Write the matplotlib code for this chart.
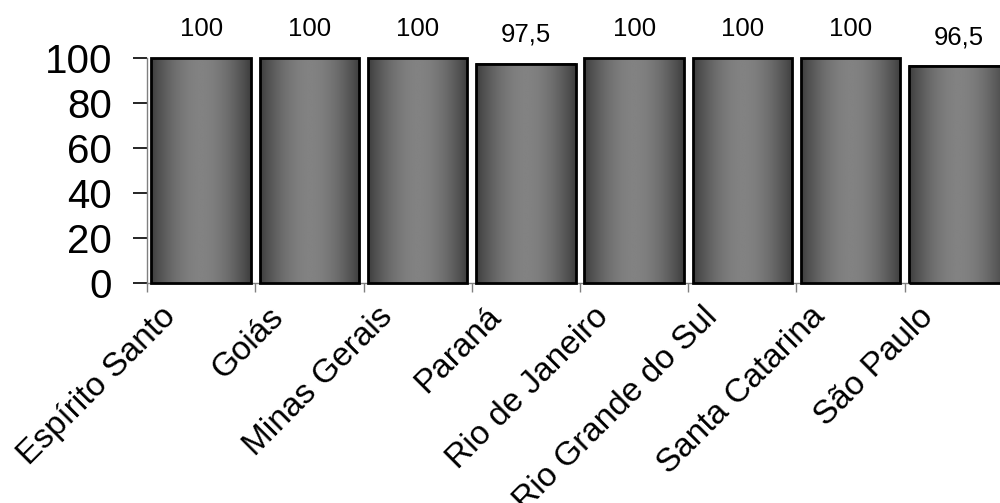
import matplotlib
matplotlib.use("Agg")
import matplotlib.pyplot as plt
import matplotlib.transforms as mtransforms
import numpy as np

plt.rcParams['font.family'] = ['Liberation Sans', 'DejaVu Sans']

states = ["Espírito Santo", "Goiás", "Minas Gerais", "Paraná", "Rio de Janeiro",
          "Rio Grande do Sul", "Santa Catarina", "São Paulo"]
values = [100, 100, 100, 97.5, 100, 100, 100, 96.5]
yticks = [0, 20, 40, 60, 80, 100]

fig = plt.figure(figsize=(10, 5.03), dpi=100)
ax = fig.add_axes([0.147, 0.4374, 0.866, 0.4473])

x = np.arange(len(states))
bars = ax.bar(x, values, width=0.92, facecolor='none', edgecolor='black',
              linewidth=2.0, zorder=3, clip_on=False)

# horizontal shading inside each bar: dark at the sides, lighter in the middle
t = np.linspace(0, 1, 256)
shade = 0.24 + 0.27 * np.sin(np.pi * t) ** 0.9
grad = np.tile(shade, (2, 1))
for b in bars:
    x0, w, h = b.get_x(), b.get_width(), b.get_height()
    ax.imshow(grad, cmap='gray', vmin=0, vmax=1, aspect='auto',
              extent=[x0, x0 + w, 0, h], zorder=2, interpolation='bilinear',
              clip_on=False)

ax.set_xlim(-0.5, len(states) - 0.5)
ax.set_ylim(0, 100)

for s in ['top', 'right']:
    ax.spines[s].set_visible(False)
ax.spines['left'].set_color('#808080')
ax.spines['bottom'].set_color('#808080')
ax.spines['left'].set_linewidth(1.0)
ax.spines['bottom'].set_linewidth(1.0)

ax.set_yticks(yticks)
ax.set_yticklabels([str(v) for v in yticks], fontsize=29)
ax.tick_params(axis='y', length=10, width=1.2, color='black', pad=15)

ax.set_xticks(np.arange(len(states) + 1) - 0.5)
ax.set_xticklabels([])
ax.tick_params(axis='x', length=6.5, width=1.0, color='#808080', direction='out')

# value labels above bars
for xi, v in zip(x, values):
    txt = f"{v:g}".replace('.', ',')
    ax.annotate(txt, (xi, v), xytext=(0, 12), textcoords='offset points',
                ha='center', va='bottom', fontsize=18.5, clip_on=False)

# rotated category labels
for xi, name in zip(x, states):
    off = mtransforms.ScaledTranslation(-30 / 100, -29 / 100, fig.dpi_scale_trans)
    tr = mtransforms.blended_transform_factory(ax.transData, ax.transAxes) + off
    ax.text(xi, 0, name, transform=tr, rotation=45, rotation_mode='anchor',
            ha='right', va='center', fontsize=24)

fig.savefig("out.png", dpi=100)
